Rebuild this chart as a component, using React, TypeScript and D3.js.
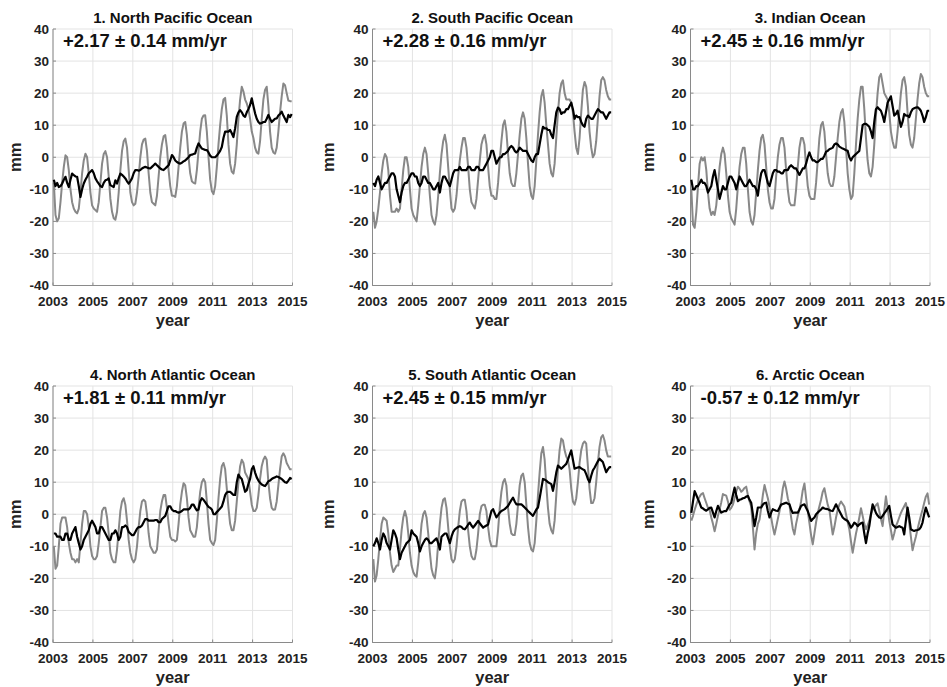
import React from 'react';
import * as d3 from 'd3';

// tick labels
const yearTicks = [2003, 2005, 2007, 2009, 2011, 2013, 2015];
const mmTicks = [-40, -30, -20, -10, 0, 10, 20, 30, 40];

const titles = [
  '1. North Pacific Ocean',
  '2. South Pacific Ocean',
  '3. Indian Ocean',
  '4. North Atlantic Ocean',
  '5. South Atlantic Ocean',
  '6. Arctic Ocean',
];
const trends = [
  '+2.17 \u00b1 0.14 mm/yr',
  '+2.28 \u00b1 0.16 mm/yr',
  '+2.45 \u00b1 0.16 mm/yr',
  '+1.81 \u00b1 0.11 mm/yr',
  '+2.45 \u00b1 0.15 mm/yr',
  '-0.57 \u00b1 0.12 mm/yr',
];

// monthly values, Jan 2003 .. Dec 2014 (mm)
// gray = with seasonal cycle, black = seasonal cycle removed
const npGray = [
  -8, -18, -20, -19, -14, -8, -3, 0.6, 0, -4, -10, -14,
  -16, -17, -17.5, -16, -11, -5, -1, 1.1, 0, -5, -11, -15,
  -16, -16.5, -17, -14, -8, -2, 1, 1.9, 0, -6, -13, -17,
  -19, -19.5, -17, -11, -4, 2, 5, 5.8, 3, -4, -11, -14,
  -15, -14.5, -11, -6, 0, 4, 5.5, 5.8, 2, -5, -11, -14,
  -14.5, -15, -12, -6, 0, 4, 6.5, 6.9, 3, -4, -9, -12,
  -12, -12.4, -9, -3, 3, 8, 10.5, 11, 7, 0, -5, -7.5,
  -8, -8.2, -4, 2, 8, 12, 13, 13.1, 8, 0, -7, -10.5,
  -11.5, -9, -3, 4, 10, 15, 18, 18.5, 13, 4, -2, -4.5,
  -5.1, -2, 4, 12, 18, 22, 20.5, 18, 16.8, 15, 12, 8,
  6, 3, 1.5, 1.1, 5, 12, 18, 21, 22, 16, 8, 3,
  1.5, 1.1, 3, 8, 14, 19, 23, 22.5, 20, 17.7, 17.5, 17.5,
];
const npBlack = [
  -7, -9, -8, -9.3, -9, -8.2, -7, -6.1, -8, -9.3, -7, -5.1,
  -5.6, -6, -6.1, -9, -12.4, -10, -8.2, -7, -6.1, -5, -4.5, -4,
  -5, -6.6, -7.5, -8.2, -9, -9.3, -8, -7.2, -7, -6.6, -8.7, -9,
  -9.3, -7.2, -8.2, -6.5, -5.1, -5.5, -6, -6.6, -7.5, -8.2, -7.5, -6.6,
  -5, -4, -4, -4.2, -4, -3.5, -3.2, -3, -3.2, -3.4, -3.5, -3,
  -2.5, -2, -2.5, -3, -3.5, -3.8, -4, -3.5, -3, -2.5, -1, 0.7,
  0, -1, -1.5, -1.8, -2, -1.7, -1.3, -1, -0.5, 0, 0.7, 0.8,
  1, 1.2, 3, 4.3, 3.5, 2.7, 2.5, 2.3, 2.2, 1.5, 0.5, 0,
  0, 0, 0.5, 1.2, 2, 3.2, 6, 8, 8, 8, 8.5, 7.5,
  6.3, 9, 12.6, 14, 14.7, 14, 13, 12.6, 14, 15, 16.3, 18.4,
  16, 13.7, 12, 11, 10.5, 10.7, 11, 11, 12, 13.2, 12, 11,
  11.5, 12, 12.1, 13, 13.5, 14.2, 13, 12, 11, 13.2, 12.5, 13.5,
];

const spGray = [
  -17, -22, -20, -16, -11, -5, -1, 1, 0, -4, -12, -17,
  -17, -17, -16, -17, -16, -10, -4, 0, 0, -3, -10, -16,
  -18, -19, -20, -15, -9, -3, 1, 3, 1, -5, -12, -18,
  -20, -21, -18, -12, -5, 1, 5, 7, 4, -3, -10, -16,
  -17, -16, -12, -6, -1, 3, 6, 6, 3, -3, -10, -14,
  -15, -16, -13, -7, -1, 4, 6, 7, 4, -3, -9, -12,
  -12, -13, -13, -8, -1, 5, 10, 11.5, 8, 1, -5, -8,
  -9, -9, -5, 1, 7, 12, 14, 12, 6, -2, -9, -12,
  -13, -9, -1, 7, 14, 19, 21, 17, 10, 4, -2, -5,
  -6, -2, 6, 14, 20, 23, 24, 20, 18, 18, 18, 17,
  14, 8, 3, 1, 6, 14, 21, 23.5, 22, 16, 8, 3,
  0, 1, 5, 12, 19, 24, 25, 24, 21, 19, 18, 18,
];
const spBlack = [
  -8, -9, -7, -6, -8, -10, -9, -8, -8, -7, -6, -5,
  -5, -6, -10, -12, -14, -11, -9, -8, -8, -7, -6, -5,
  -5, -6, -6, -8, -9, -8, -6, -6, -7, -8, -8, -9,
  -10, -10, -9, -8, -11, -8, -6, -6, -7, -8, -9, -7,
  -5, -4, -4, -4, -3, -4, -4, -4, -4, -3, -3, -4,
  -4, -4, -3, -3, -4, -4, -4, -3, -2, -1, 0, 2,
  2, 0, -2, -1, 0, 0, 1, 1, 1.5, 2, 3, 3.5,
  3, 2, 1.5, 2, 3, 2.5, 2, 2, 2, 1, 0, -1,
  -1.5, 0, 1, 1, 4, 7, 9.5, 9, 9, 8.5, 8.5, 7,
  6, 10, 14, 15.5, 15, 13.5, 14, 14, 15, 15, 16, 17,
  15, 12, 13, 12.5, 12.5, 11, 10, 9.5, 12, 13, 12.5, 12,
  12, 13, 14, 15, 14.5, 14, 14, 13, 12, 13, 14, 14,
];

const ioGray = [
  -10, -21, -22, -17, -9, -2, 0, -1, 0, -4, -11, -16,
  -18, -17, -18, -15, -9, -3, 1, 3, 1, -5, -12, -17,
  -19, -20, -21, -16, -9, -3, 1, 3, 3, -2, -10, -17,
  -20, -21, -18, -11, -4, 2, 6, 7, 4, -3, -10, -14,
  -16, -16, -13, -6, 0, 4, 6, 6, 3, -4, -10, -14,
  -15, -15, -15, -10, -3, 3, 6, 6, 4, -3, -9, -12,
  -13, -13, -13, -8, -1, 6, 10, 11, 8, 1, -5, -8,
  -9, -9, -6, 0, 6, 11, 14, 15, 11, 3, -5, -10,
  -13, -12, -5, 4, 12, 18, 22, 22, 15, 6, -1, -5,
  -6, -3, 4, 13, 20, 25, 26, 23, 20, 19, 18, 14,
  8, 5, 3, 3, 8, 14, 20, 24, 25, 22, 14, 7,
  4, 3, 6, 12, 18, 23, 26, 25, 22, 20, 19, 19,
];
const ioBlack = [
  -7, -10, -10, -9, -9, -8, -7, -8, -8, -9, -11, -10,
  -9, -6, -4, -7, -10, -13, -11, -9, -10, -10, -8, -6,
  -6, -7, -8, -10, -8, -6, -7, -8, -9, -9, -8, -7,
  -8, -9, -9, -10, -12, -8, -5, -4, -4, -6, -8, -9,
  -7, -5, -4, -4, -4.5, -4.5, -5, -5, -4, -4, -4, -3,
  -2.5, -3, -3.5, -3.5, -4.5, -5.5, -4.5, -3.5, -3.5, -2, 0, 1.5,
  0, -1, -1, -1.5, -1.5, -1, -0.5, -0.5, 0.5, 1.7, 2, 2.5,
  2.7, 3, 4, 4.3, 4, 3.3, 3, 2.7, 2.5, 2.2, 2, 0,
  -1, 0, 0.5, 1, 1.5, 2, 6, 10, 10.4, 10.4, 10, 9.5,
  8, 6, 11, 15, 15.6, 15, 14.5, 13, 11, 14, 17, 18,
  19, 16, 13, 13.5, 14.5, 12, 9.5, 11, 13.5, 13, 13, 12.5,
  14, 15, 15.3, 15.5, 15.6, 15.2, 14.5, 13, 11, 12.5, 14.5, 14.5,
];

const naGray = [
  -10, -17, -16, -10, -3, -1, -1, -1, -4, -9, -12, -14,
  -14, -15, -14, -15, -9, -3, 1, 1, 0, -4, -10, -13,
  -14, -14, -13, -9, -4, 1, 2, 2, -1, -6, -12, -14,
  -15, -15, -11, -5, 1, 4, 5, 3, -2, -8, -12, -14,
  -15, -14, -10, -4, 1, 4, 4.5, 4, 0, -6, -10, -11,
  -12, -12, -11, -5, 1, 4, 6, 6, 2, -3, -7, -8,
  -8, -8.5, -8, -3, 3, 7, 9.7, 9, 5, -1, -5, -6,
  -7, -7, -4, 2, 7, 10, 11, 10, 4, -3, -8, -9,
  -9.6, -8, -2, 5, 11, 15, 16, 14, 8, 2, -3, -5,
  -5, -2, 4, 10, 15, 17, 16, 13, 12, 11, 7, 3,
  1, 1, 2, 6, 11, 15, 17, 18, 17, 10, 5, 2,
  1.4, 1.5, 4, 9, 14, 18, 19, 18, 16, 15, 14, 14,
];
const naBlack = [
  -6, -6, -7, -7, -7, -8, -8, -6, -6, -8, -8, -6,
  -5, -4, -7, -9, -11, -10, -8, -7, -6, -5, -3, -2,
  -3, -4, -6, -6, -4, -4, -5, -6, -7, -8, -8, -6,
  -6, -5, -6, -8, -7, -4, -4, -3.5, -4, -5.5, -6, -6.5,
  -6.5, -5.5, -4.5, -4, -4, -3.5, -2.5, -1.5, -1.5, -2, -2, -2,
  -2, -1.8, -1.8, -2.5, -2.5, -1.5, -1, -0.5, 1, 2.5, 2.5, 1.5,
  1, 1, 0.7, 0.5, 0.7, 1, 1.5, 1.5, 1.5, 1.5, 2, 3,
  3, 2, 1.2, 1.5, 4, 5, 4.5, 3.8, 3, 2.3, 2, 1.5,
  0, 0, 0.7, 1.2, 1.8, 2.4, 4, 6, 6.8, 7, 7, 6.5,
  6, 6, 10, 12.4, 11.5, 11, 9, 7, 7.5, 9.5, 11, 14,
  15, 13, 11.5, 10.5, 9.8, 9.3, 9, 8.8, 9.5, 10.3, 10.5, 11,
  11.3, 11.5, 11.8, 11.6, 11.3, 11, 10.5, 10, 9.8, 10.5, 11.3, 11,
];

const saGray = [
  -14, -21, -19, -14, -8, -3, -1, -1.5, -2, -6, -12, -16,
  -18, -17, -16, -16, -11, -5, -1, 1, -1, -6, -12, -16,
  -18, -19, -19.5, -15, -9, -3, 0, 1, -1, -6, -12, -17,
  -19, -20, -16, -9, -3, 2, 4.5, 5, 2, -4, -10, -14,
  -15, -14, -10, -4, 1, 4, 4.5, 4.5, 1, -5, -10, -13,
  -14, -14, -11, -6, 0, 2.5, 3, 3, 1, -4, -8, -10,
  -10, -10, -10, -5, 2, 7, 10, 11, 9, 2, -3, -6,
  -6.5, -6.5, -3, 3, 9, 12, 12.7, 10, 3, -4, -9, -11,
  -11.6, -9, -2, 6, 13, 19, 21, 17, 9, 2, -3, -5,
  -6, -2, 6, 14, 20, 23.6, 23, 20, 18, 17, 14, 8,
  4, 3, 5, 10, 16, 20, 22, 22.7, 22, 15, 8, 3.5,
  3.5, 5, 10, 16, 21, 24, 24.7, 23, 20, 18, 18, 18,
];
const saBlack = [
  -10, -9, -7.5, -9, -11, -8, -6, -7, -9, -10, -11, -8,
  -5, -6, -7.5, -11, -14, -12, -11, -10, -9, -8.5, -8, -5,
  -6, -6.5, -7, -9, -11.6, -10, -9, -8, -7.5, -8, -9, -9,
  -8.5, -8, -7.5, -9, -11, -7, -6.5, -6, -6, -7.5, -9, -7,
  -5.5, -4.7, -4.3, -4, -3.7, -4, -4.5, -4.7, -4, -3.2, -2.6, -3.5,
  -4.2, -3.5, -2.8, -2.1, -2.8, -3.5, -4.2, -3.8, -3.5, -3.2, -1, 1,
  1.6, 0.3, -1, -0.3, 0.5, 1, 1.3, 1.6, 2.1, 2.6, 3.5, 4.4,
  5.2, 4, 3.1, 3.1, 3.1, 3.1, 2.6, 2.1, 1.6, 1, 0.5, 0,
  -0.5, 0.5, 1.5, 2.1, 5, 8, 11, 10.8, 10.5, 10, 9.7, 9.4,
  7.3, 10, 13, 15.2, 14.7, 14.2, 14.7, 15.2, 15.7, 17, 18.5, 19.9,
  17, 14.2, 14.4, 14.6, 14.7, 14.3, 14, 13.7, 12.5, 11, 10, 12,
  13.7, 14.5, 15.5, 16.5, 17.3, 16.8, 16.3, 14.7, 13.1, 14, 14.7, 14.7,
];

const arGray = [
  -2, -0.5, 1.4, 3, 4.5, 5.5, 6.3, 6.6, 5, 3.5, 2, 1.4,
  -1, -3, -5.3, -3, -0.5, 1.5, 3.7, 6.3, 6, 5.8, 4, 1.4,
  2, 3, 5, 7, 8.6, 8, 7, 7.5, 8.2, 8.6, 6, 4,
  2.4, -4, -11, -6, -3, -1.7, 2, 6, 9.1, 7, 5, 2.4,
  -1, -4, -6.3, -4, -1.5, 0.9, 4, 8, 10.2, 8, 5, 2.9,
  -1, -4.5, -6.3, -3, -0.5, 1.4, 4, 7.5, 9.6, 5, 1, -2.7,
  -6.5, -9.4, -6, -2.5, 0.4, 2.5, 4.5, 7, 8.1, 5.5, 3, 1.4,
  -2.5, -6.3, -4, -1, 1.4, 3, 4, 3.2, 2.4, 0, -2.5, -4.7,
  -8.5, -12, -9, -6, -3.7, -1, 1.9, -0.5, -3, -4.7, -3.5, -2,
  0, 1.4, 2, 2.8, 3.4, 1, -1.5, -3.7, 1, 5.6, 2, -2,
  -5, -7.9, -6, -3.7, -2.5, -1, 0.4, 1.5, 2.5, 3.5, 0.5, -2.7,
  -7, -11.2, -9, -7, -4.7, -2.5, -0.5, 1.4, 3.5, 5.5, 6.5, 3,
];
const arBlack = [
  0.4, 4, 7.2, 6, 4.7, 3.5, 2.1, 1.8, 1.4, 1.1, 1.5, 2,
  2.1, 0.5, -1, 1, 2.6, 1.5, 0.5, 0.8, 1, 1, 2, 3,
  3.6, 6, 8.3, 6, 4.1, 4.5, 4.7, 5, 5.1, 5.5, 5.7, 4.5,
  3.6, 0, -3.7, -1, 2.1, 2.1, 2.1, 3, 3.5, 3.6, 1, -1,
  0.5, 1.6, 1.3, 1.1, 1, 2, 3, 3.2, 3.4, 3.6, 3.3, 3.1,
  1.5, 0.4, 0.5, 0.5, 0.5, 1.5, 2.6, 2.9, 3.1, 2, 1, -0.5,
  -2.1, -1.5, -1, 0, 0.5, 1, 1.5, 2.1, 1.8, 1.7, 1.6, 1.3,
  1.1, 1, 2, 3.1, 2, 1, 0, -1, -1.5, -1.8, -2.1, -3,
  -4.2, -3.5, -2.6, -3, -3.7, -3.2, -2.8, -2.6, -6, -9, -6, -3.7,
  0, 3.1, 1.8, 0.4, -0.4, -1, -1.2, -0.5, 0.3, 1, 1.8, 2.6,
  -0.5, -3.2, -3.7, -4.2, -4, -3.7, -4, -4.2, -6.3, -2, 2.1, -1,
  -4.7, -5, -5.2, -5, -4.9, -4.7, -4, -2.6, 0, 2.1, 0.5, -1,
];

const grayData = [npGray, spGray, ioGray, naGray, saGray, arGray];
const blackData = [npBlack, spBlack, ioBlack, naBlack, saBlack, arBlack];

// layout
const colLeft = [53, 372.5, 690.5];
const mmOffset = [37.5, 44, 42.5];
const rowTop = [29, 386];
const plotW = 239.5;
const plotH = 256.5;
const font = '"Liberation Sans", Arial, Helvetica, sans-serif';

function Panel({ idx }: { idx: number }) {
  const col = idx % 3;
  const left = colLeft[col];
  const top = rowTop[Math.floor(idx / 3)];
  const x = d3.scaleLinear().domain([2003, 2015]).range([left, left + plotW]);
  const y = d3.scaleLinear().domain([-40, 40]).range([top + plotH, top]);
  const line = d3
    .line<number>()
    .x((_, i) => x(2003 + (i + 0.5) / 12))
    .y((d) => y(d));
  const bottom = top + plotH;

  return (
    <g>
      {/* grid */}
      {yearTicks.map((t) => (
        <line key={'gx' + t} x1={x(t)} x2={x(t)} y1={top} y2={bottom} stroke="#e3e3e3" strokeWidth={1} />
      ))}
      {mmTicks.map((v) => (
        <line key={'gy' + v} x1={left} x2={left + plotW} y1={y(v)} y2={y(v)} stroke="#e3e3e3" strokeWidth={1} />
      ))}
      {/* axes */}
      <line x1={left} x2={left} y1={top} y2={bottom} stroke="#8a8a8a" strokeWidth={1} />
      <line x1={left} x2={left + plotW} y1={bottom} y2={bottom} stroke="#8a8a8a" strokeWidth={1} />
      {yearTicks.map((t) => (
        <line key={'tx' + t} x1={x(t)} x2={x(t)} y1={bottom} y2={bottom - 3} stroke="#8a8a8a" />
      ))}
      {mmTicks.map((v) => (
        <line key={'ty' + v} x1={left} x2={left + 3} y1={y(v)} y2={y(v)} stroke="#8a8a8a" />
      ))}
      {/* data */}
      <path d={line(grayData[idx]) || ''} fill="none" stroke="#888888" strokeWidth={2} strokeLinejoin="round" />
      <path d={line(blackData[idx]) || ''} fill="none" stroke="#000000" strokeWidth={2.2} strokeLinejoin="round" />
      {/* labels */}
      {mmTicks.map((v) => (
        <text key={'ly' + v} x={left - 4} y={y(v)} dy="0.36em" textAnchor="end" fontSize={13.5} fontWeight="bold" fill="#222">
          {v}
        </text>
      ))}
      {yearTicks.map((t) => (
        <text key={'lx' + t} x={x(t)} y={bottom + 20} textAnchor="middle" fontSize={13.5} fontWeight="bold" fill="#222">
          {t}
        </text>
      ))}
      <text x={left + plotW / 2} y={bottom + 40} textAnchor="middle" fontSize={16.5} fontWeight="bold" fill="#222">
        year
      </text>
      <text
        transform={`translate(${left - mmOffset[col]},${top + plotH / 2}) rotate(-90)`}
        dy="0.36em"
        textAnchor="middle"
        fontSize={16.5}
        fontWeight="bold"
        fill="#222"
      >
        mm
      </text>
      <text x={left + plotW / 2} y={top - 6} textAnchor="middle" fontSize={15} fontWeight="bold" fill="#111">
        {titles[idx]}
      </text>
      <text x={left + 10} y={top + 18} fontSize={18.5} fontWeight="bold" fill="#111">
        {trends[idx]}
      </text>
    </g>
  );
}

export default function App() {
  return (
    <svg
      width={947}
      height={687}
      style={{ position: 'absolute', left: 0, top: 0, background: '#fff' }}
      fontFamily={font}
    >
      <rect width={947} height={687} fill="#fff" />
      {[0, 1, 2, 3, 4, 5].map((i) => (
        <Panel key={i} idx={i} />
      ))}
    </svg>
  );
}
